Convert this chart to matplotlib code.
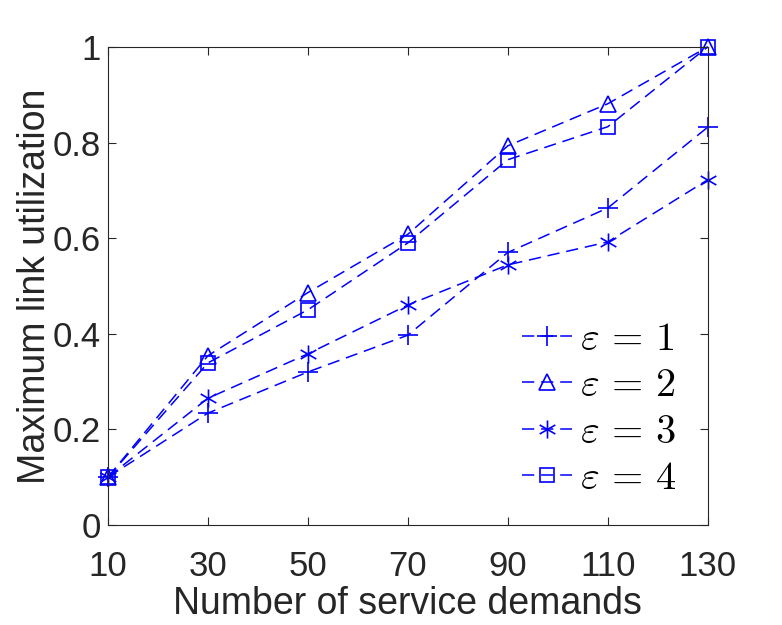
import matplotlib

matplotlib.use("Agg")

import matplotlib.pyplot as plt
import numpy as np
from matplotlib.path import Path

demands = [10, 30, 50, 70, 90, 110, 130]
util_eps1 = [0.10, 0.234, 0.32, 0.397, 0.570, 0.663, 0.832]
util_eps2 = [0.10, 0.354, 0.486, 0.608, 0.793, 0.881, 1.00]
util_eps3 = [0.10, 0.265, 0.358, 0.460, 0.544, 0.592, 0.722]
util_eps4 = [0.10, 0.339, 0.450, 0.590, 0.764, 0.833, 1.00]
labels = [r"$\varepsilon\,=\,1$", r"$\varepsilon\,=\,2$",
          r"$\varepsilon\,=\,3$", r"$\varepsilon\,=\,4$"]

# matlab-style asterisk: three crossing strokes
verts, codes = [], []
for ang in (90, 30, 150):
    a = np.deg2rad(ang)
    verts += [(-np.cos(a), -np.sin(a)), (np.cos(a), np.sin(a))]
    codes += [Path.MOVETO, Path.LINETO]
asterisk = Path(verts, codes)

markers = ["+", "^", asterisk, "s"]
sizes = [14, 12, 13, 10]

plt.rcParams["font.family"] = ["Liberation Sans", "DejaVu Sans"]
plt.rcParams["mathtext.fontset"] = "cm"

fig = plt.figure(figsize=(7.82, 6.25), dpi=100)
ax = fig.add_axes([0.138, 0.16, 0.767, 0.765])

series = [util_eps1, util_eps2, util_eps3, util_eps4]
for vals, mk, ms, lab in zip(series, markers, sizes, labels):
    ax.plot(
        demands,
        vals,
        linestyle=(0, (8, 4.5)),
        color="blue",
        linewidth=1.1,
        marker=mk,
        markersize=ms,
        markerfacecolor="none",
        markeredgecolor="blue",
        markeredgewidth=1.2,
        label=lab,
        clip_on=False,
    )

ax.set_xlim(10, 130)
ax.set_ylim(0, 1)
ax.set_xticks(demands)
ax.set_yticks([0, 0.2, 0.4, 0.6, 0.8, 1.0])
ax.set_yticklabels(["0", "0.2", "0.4", "0.6", "0.8", "1"])
ax.tick_params(direction="in", top=True, right=True, labelsize=25,
               colors="0.15", length=6, width=0.8)
ax.tick_params(axis="x", pad=18)
ax.tick_params(axis="y", pad=5)
for sp in ax.spines.values():
    sp.set_color("0.15")
    sp.set_linewidth(0.8)
ax.set_xlabel("Number of service demands", fontsize=27, color="0.15", labelpad=2)
ax.set_ylabel("Maximum link utilization", fontsize=27, color="0.15", labelpad=0)

leg = ax.legend(loc="lower left", frameon=False, fontsize=29, handlelength=1.25,
                handletextpad=0.2, labelspacing=0.21, borderaxespad=0,
                borderpad=0, bbox_to_anchor=(0.69, 0.058))

fig.savefig("out.png", dpi=100)
plt.close(fig)
